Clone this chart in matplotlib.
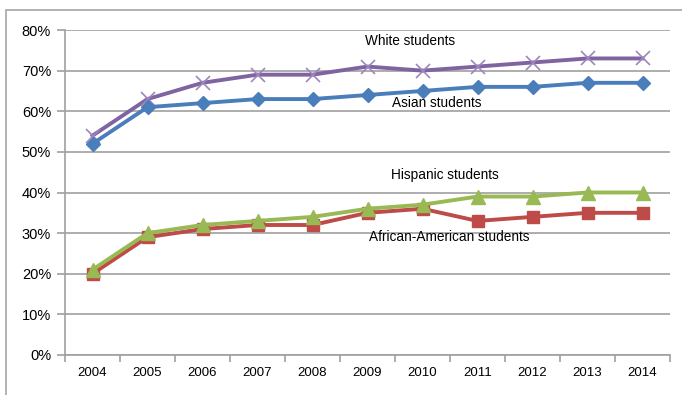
import matplotlib.pyplot as plt
from matplotlib.patches import Rectangle

years = ["2004", "2005", "2006", "2007", "2008", "2009", "2010", "2011", "2012", "2013", "2014"]
white = [54, 63, 67, 69, 69, 71, 70, 71, 72, 73, 73]
asian = [52, 61, 62, 63, 63, 64, 65, 66, 66, 67, 67]
hispanic = [21, 30, 32, 33, 34, 36, 37, 39, 39, 40, 40]
african_american = [20, 29, 31, 32, 32, 35, 36, 33, 34, 35, 35]

plt.rcParams['font.family'] = ['Liberation Sans', 'DejaVu Sans']

fig = plt.figure(figsize=(6.82, 3.95), dpi=100)
ax = fig.add_axes([65 / 682, 40 / 395, 605 / 682, 325 / 395])

# outer chart frame
fig.patches.append(Rectangle((6 / 682, -0.05), 1.1, 0.05 + 385 / 395, transform=fig.transFigure,
                             fill=False, edgecolor='#a6a6a6', linewidth=1.2))

x = list(range(len(years)))
grid_c = '#a0a0a0'

ax.plot(x, white, color='#8064a2', lw=2.8, marker='x', ms=10, mew=1.2, mec='#9d86bd', zorder=3)
ax.plot(x, asian, color='#4a7ebb', lw=2.8, marker='D', ms=7.5, zorder=3)
ax.plot(x, african_american, color='#be4b48', lw=2.8, marker='s', ms=8.5, zorder=3)
ax.plot(x, hispanic, color='#98b954', lw=2.8, marker='^', ms=9.5, zorder=4)

ax.text(5.77, 77.3, "White students", fontsize=9.8, ha='center', va='center')
ax.text(6.25, 62.0, "Asian students", fontsize=9.8, ha='center', va='center')
ax.text(6.41, 44.3, "Hispanic students", fontsize=9.8, ha='center', va='center')
ax.text(6.48, 29.0, "African-American students", fontsize=9.8, ha='center', va='center')

ax.set_xlim(-0.5, len(years) - 0.5)
ax.set_ylim(0, 80)
ax.set_yticks(range(0, 81, 10))
ax.set_yticklabels([f"{v}%" for v in range(0, 81, 10)], fontsize=10.5)
ax.yaxis.grid(True, color=grid_c, lw=1.2)
ax.set_axisbelow(True)

ax.set_xticks(x)
ax.set_xticklabels(years, fontsize=9.5)
ax.set_xticks([i - 0.5 for i in range(len(years) + 1)], minor=True)
ax.tick_params(axis='x', which='major', length=0, pad=9)
ax.tick_params(axis='x', which='minor', length=5, color=grid_c, width=1.2)
ax.tick_params(axis='y', length=6, color=grid_c, width=1.2, pad=4)

for s in ['top', 'right']:
    ax.spines[s].set_visible(False)
for s in ['left', 'bottom']:
    ax.spines[s].set_color(grid_c)
    ax.spines[s].set_linewidth(1.2)

fig.savefig('out.png', dpi=100)
